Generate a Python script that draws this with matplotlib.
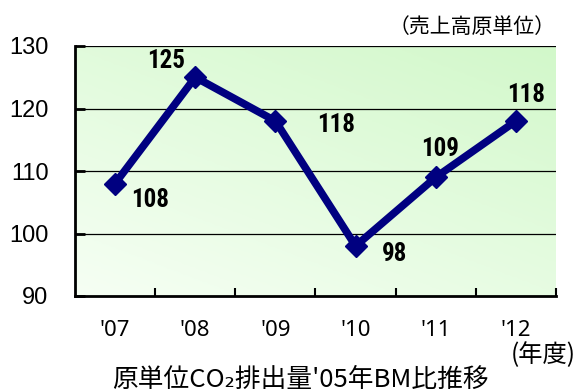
import matplotlib
matplotlib.use("Agg")
import matplotlib.pyplot as plt
import numpy as np
from matplotlib.colors import LinearSegmentedColormap

plt.rcParams['font.family'] = ['Noto Sans CJK JP', 'DejaVu Sans']

years = ["'07", "'08", "'09", "'10", "'11", "'12"]
values = [108, 125, 118, 98, 109, 118]
value_labels = ["108", "125", "118", "98", "109", "118"]
label_offsets = [(25, -12), (-21, 12), (44, -3), (28, -6), (3, 20), (7, 19)]
yticks = [90, 100, 110, 120, 130]

fig = plt.figure(figsize=(5.76, 3.92), dpi=100)
ax = fig.add_axes([75/576, 1-296/392, 481/576, 250/392])

x = np.arange(len(years))
ax.set_xlim(-0.5, len(years) - 0.5)
ax.set_ylim(90, 130)

# gradient background
gx, gy = np.meshgrid(np.linspace(0, 1, 200), np.linspace(0, 1, 200))
g = (gx * 0.55 + gy * 0.75) / 1.3
cmap = LinearSegmentedColormap.from_list('g', ['#f6fff4', '#d2f8ca'])
ax.imshow(g, extent=(-0.5, len(years) - 0.5, 90, 130), origin='lower',
          aspect='auto', cmap=cmap, zorder=0)

for yv in [100, 110, 120, 130]:
    ax.axhline(yv, color='black', lw=0.9, zorder=1)

ax.plot(x, values, color='#000080', lw=5.5, marker='D', markersize=11,
        zorder=3, solid_joinstyle='miter')

for xi, v, lab, (dx, dy) in zip(x, values, value_labels, label_offsets):
    ax.annotate(lab, (xi, v), xytext=(dx, dy), textcoords='offset points',
                ha='center', va='center', fontsize=18, fontweight='bold',
                family=['Roboto Condensed', 'DejaVu Sans'], zorder=4)

for s in ['top', 'right']:
    ax.spines[s].set_visible(False)
ax.spines['left'].set_linewidth(2)
ax.spines['bottom'].set_linewidth(2)

ax.set_yticks(yticks)
ax.set_yticklabels([str(t) for t in yticks], fontsize=17,
                   family=['Liberation Sans', 'DejaVu Sans'])
ax.tick_params(axis='y', direction='in', length=7, width=2, pad=19)

ax.set_xticks(np.arange(len(years)) + 0.5, minor=False)
ax.set_xticklabels([])
ax.tick_params(axis='x', direction='in', length=6, width=1.5)
for xi, yl in zip(x, years):
    ax.text(xi, -35/250, yl, transform=ax.get_xaxis_transform(), ha='center',
            va='center', fontsize=16, family=['Noto Sans', 'DejaVu Sans'])

fig.text(556/576, 1-27/392, '（売上高原単位）', ha='right', va='center', fontsize=15)
fig.text(576/576, 1-355/392, '(年度)', ha='right', va='center', fontsize=17.5)
fig.text(300/576, 1-380/392, "原単位CO₂排出量'05年BM比推移", ha='center',
         va='center', fontsize=18.5)

fig.savefig('out.png', dpi=100)
